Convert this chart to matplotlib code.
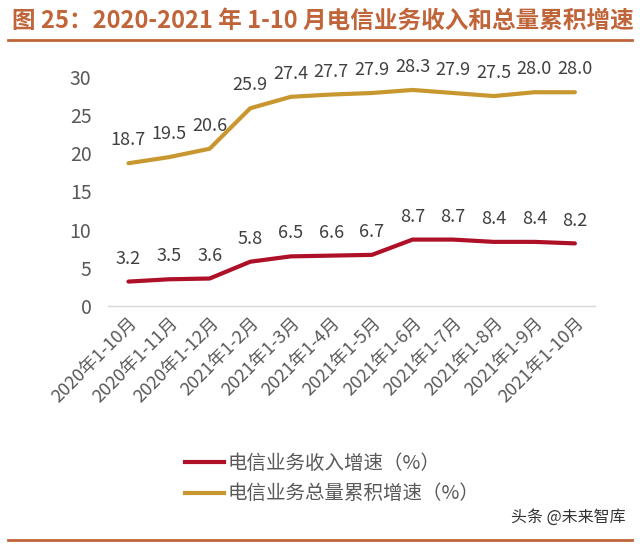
import matplotlib
matplotlib.use('Agg')
import matplotlib.pyplot as plt
from matplotlib.lines import Line2D

plt.rcParams['font.family'] = ['Noto Sans CJK SC', 'DejaVu Sans']

# 数据
months = ['2020年1-10月', '2020年1-11月', '2020年1-12月', '2021年1-2月', '2021年1-3月',
          '2021年1-4月', '2021年1-5月', '2021年1-6月', '2021年1-7月', '2021年1-8月',
          '2021年1-9月', '2021年1-10月']
revenue_growth = [3.2, 3.5, 3.6, 5.8, 6.5, 6.6, 6.7, 8.7, 8.7, 8.4, 8.4, 8.2]
volume_growth = [18.7, 19.5, 20.6, 25.9, 27.4, 27.7, 27.9, 28.3, 27.9, 27.5, 28.0, 28.0]
y_ticks = [0, 5, 10, 15, 20, 25, 30]

red = '#AE1028'
gold = '#C9972F'
text_gray = '#404040'

fig = plt.figure(figsize=(6.4, 5.44), dpi=100)

# 标题和分隔线
fig.text(0.018, 0.962, '图 25：2020-2021 年 1-10 月电信业务收入和总量累积增速',
         fontsize=17, fontweight='bold', color='#C0653A', va='center', ha='left')
fig.add_artist(Line2D([0.0125, 0.9875], [0.926, 0.926], color='#C0653A', lw=2))
fig.add_artist(Line2D([0.0125, 0.9875], [0.007, 0.007], color='#C0653A', lw=2))

ax = fig.add_axes([0.169, 0.4375, 0.761, 0.421])
x = list(range(len(months)))
ax.plot(x, revenue_growth, color=red, lw=3, solid_capstyle='round')
ax.plot(x, volume_growth, color=gold, lw=3, solid_capstyle='round')

for xi, v in zip(x, revenue_growth):
    ax.annotate(f'{v:.1f}', (xi, v), xytext=(0, 10), textcoords='offset points',
                ha='center', va='bottom', fontsize=13, color=text_gray)
for xi, v in zip(x, volume_growth):
    ax.annotate(f'{v:.1f}', (xi, v), xytext=(0, 10), textcoords='offset points',
                ha='center', va='bottom', fontsize=13, color=text_gray)

ax.set_xlim(-0.5, len(months) - 0.5)
ax.set_ylim(0, 30)
ax.set_yticks(y_ticks)
ax.set_yticklabels([str(t) for t in y_ticks], fontsize=14, color='#595959')
ax.set_xticks(x)
ax.set_xticklabels(months, rotation=45, ha='right', rotation_mode='anchor',
                   fontsize=13, color='#595959')
ax.tick_params(axis='both', length=0)
ax.tick_params(axis='y', pad=12)
ax.tick_params(axis='x', pad=6)
for s in ['top', 'right', 'left']:
    ax.spines[s].set_visible(False)
ax.spines['bottom'].set_color('#D9D9D9')
ax.spines['bottom'].set_linewidth(1)

# 图例
leg_handles = [Line2D([], [], color=red, lw=3), Line2D([], [], color=gold, lw=3)]
fig.legend(leg_handles, ['电信业务收入增速（%）', '电信业务总量累积增速（%）'],
           loc='upper left', bbox_to_anchor=(0.262, 0.2), frameon=False,
           fontsize=14, labelcolor='#595959', handlelength=2.0, handletextpad=0.2,
           labelspacing=0.5)

fig.text(0.977, 0.05, '头条 @未来智库', fontsize=11.5, color='#333333', ha='right', va='center')

fig.savefig('out.png', dpi=100)
